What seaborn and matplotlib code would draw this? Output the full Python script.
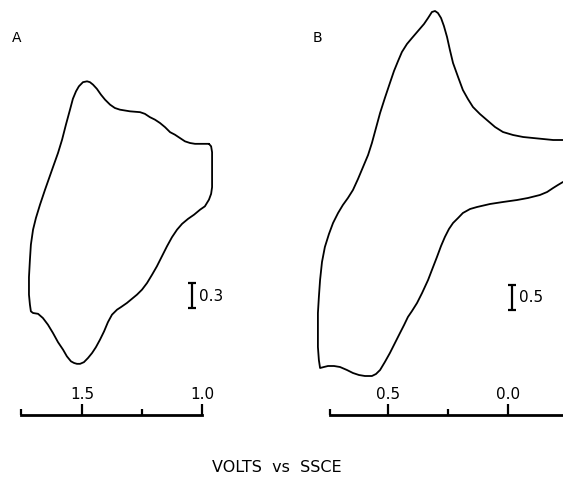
import matplotlib
matplotlib.use("Agg")
import matplotlib.pyplot as plt
import seaborn as sns
import pandas as pd

# ---------------- data ----------------
# Panel A: potential (V vs SSCE) and current (scale-bar units), closed loop
volts_a = [0.971, 0.962, 0.958, 0.958, 0.958, 0.962, 0.971, 0.988, 1.008, 1.033,
           1.058, 1.083, 1.104, 1.125, 1.146, 1.167, 1.188, 1.208, 1.229, 1.250,
           1.271, 1.292, 1.313, 1.338, 1.354, 1.375, 1.392, 1.408, 1.425, 1.442,
           1.458, 1.475, 1.492, 1.508, 1.521, 1.533, 1.546, 1.563, 1.579, 1.600,
           1.621, 1.642, 1.663, 1.683, 1.704, 1.713, 1.717, 1.721, 1.721, 1.717,
           1.713, 1.704, 1.692, 1.675, 1.654, 1.621, 1.600, 1.583, 1.567, 1.550,
           1.538, 1.525, 1.513, 1.496, 1.479, 1.467, 1.454, 1.438, 1.421, 1.404,
           1.383, 1.363, 1.342, 1.300, 1.258, 1.238, 1.217, 1.196, 1.175, 1.154,
           1.133, 1.113, 1.092, 1.071, 1.050, 1.029, 1.008, 0.971]
current_a = [3.23, 3.20, 3.13, 2.92, 2.71, 2.63, 2.56, 2.48, 2.44, 2.38,
             2.33, 2.27, 2.20, 2.11, 2.00, 1.88, 1.76, 1.66, 1.56, 1.48,
             1.42, 1.37, 1.32, 1.27, 1.24, 1.18, 1.09, 0.98, 0.88, 0.79,
             0.72, 0.66, 0.61, 0.59, 0.59, 0.60, 0.62, 0.68, 0.76, 0.85,
             0.96, 1.06, 1.14, 1.19, 1.20, 1.22, 1.30, 1.42, 1.63, 1.84,
             2.02, 2.20, 2.34, 2.50, 2.68, 2.95, 3.12, 3.28, 3.46, 3.64,
             3.77, 3.86, 3.92, 3.97, 3.98, 3.97, 3.94, 3.89, 3.82, 3.76,
             3.70, 3.66, 3.64, 3.62, 3.61, 3.59, 3.55, 3.52, 3.48, 3.43,
             3.37, 3.34, 3.30, 3.26, 3.24, 3.23, 3.23, 3.23]

# Panel B
volts_b = [-0.229, -0.188, -0.146, -0.104, -0.063, -0.021, 0.021, 0.054, 0.088, 0.117,
           0.146, 0.167, 0.188, 0.208, 0.229, 0.242, 0.254, 0.267, 0.279, 0.292,
           0.304, 0.317, 0.333, 0.350, 0.375, 0.400, 0.421, 0.442, 0.458, 0.475,
           0.492, 0.513, 0.533, 0.550, 0.567, 0.583, 0.604, 0.625, 0.646, 0.667,
           0.688, 0.708, 0.729, 0.746, 0.763, 0.775, 0.783, 0.788, 0.792, 0.792,
           0.792, 0.788, 0.783, 0.767, 0.750, 0.725, 0.700, 0.671, 0.646, 0.621,
           0.596, 0.579, 0.567, 0.550, 0.533, 0.513, 0.492, 0.471, 0.450, 0.433,
           0.417, 0.400, 0.379, 0.358, 0.333, 0.317, 0.296, 0.279, 0.263, 0.246,
           0.229, 0.208, 0.188, 0.158, 0.129, 0.075, 0.021, -0.038, -0.083, -0.133,
           -0.163, -0.188, -0.208, -0.229]
current_b = [5.46, 5.46, 5.48, 5.50, 5.52, 5.56, 5.62, 5.72, 5.86, 5.98,
             6.12, 6.28, 6.46, 6.72, 7.00, 7.26, 7.52, 7.74, 7.90, 8.00,
             8.04, 8.02, 7.90, 7.78, 7.64, 7.50, 7.38, 7.22, 7.04, 6.84,
             6.60, 6.30, 6.00, 5.70, 5.40, 5.16, 4.92, 4.68, 4.46, 4.30,
             4.16, 4.00, 3.80, 3.58, 3.32, 3.02, 2.66, 2.32, 2.00, 1.66,
             1.32, 1.06, 0.90, 0.92, 0.94, 0.94, 0.92, 0.86, 0.80, 0.76,
             0.74, 0.74, 0.74, 0.78, 0.86, 1.02, 1.20, 1.40, 1.60, 1.76,
             1.92, 2.04, 2.20, 2.40, 2.66, 2.86, 3.12, 3.34, 3.52, 3.68,
             3.80, 3.90, 4.00, 4.08, 4.12, 4.18, 4.22, 4.26, 4.30, 4.36,
             4.42, 4.50, 4.56, 4.62]

ticks_a = [1.5, 1.0]
ticklabels_a = ["1.5", "1.0"]
minor_a = [1.754, 1.25]
ticks_b = [0.5, 0.0]
ticklabels_b = ["0.5", "0.0"]
minor_b = [0.742, 0.25]

scale_a = 0.3
scale_b = 0.5
panel_labels = ["A", "B"]
xlabel = "VOLTS  vs  SSCE"

# ---------------- style ----------------
sns.set_theme(style="white")
plt.rcParams["font.family"] = ["DejaVu Sans"]

fig = plt.figure(figsize=(5.63, 4.8), dpi=100)
axA = fig.add_axes([0, 0, 281 / 563, 1])
axB = fig.add_axes([281 / 563, 0, 282 / 563, 1])

dfA = pd.DataFrame({"V": volts_a, "I": current_a})
dfB = pd.DataFrame({"V": volts_b, "I": current_b})

sns.lineplot(data=dfA, x="V", y="I", sort=False, estimator=None, ax=axA,
             color="black", lw=1.3, solid_joinstyle="round")
sns.lineplot(data=dfB, x="V", y="I", sort=False, estimator=None, ax=axB,
             color="black", lw=1.3, solid_joinstyle="round")

configs = [
    (axA, (1.8417, 0.6708), (-0.804, 4.956), -0.024, (minor_a[0], ticks_a[-1]),
     ticks_a, ticklabels_a, minor_a, (1.042, 1.26, scale_a), (1.0125, 1.40)),
    (axB, (0.9458, -0.2292), (-1.34, 8.26), -0.04, (minor_b[0], -0.2292),
     ticks_b, ticklabels_b, minor_b, (-0.017, 2.06, scale_b), (-0.046, 2.30)),
]

for ax, xl, yl, ybase, bounds, tks, tlabs, mins, bar, txt in configs:
    ax.set_xlim(*xl)
    ax.set_ylim(*yl)
    ax.set_xlabel("")
    ax.set_ylabel("")
    ax.set_yticks([])
    ax.set_facecolor("white")
    for s in ["left", "right", "bottom"]:
        ax.spines[s].set_visible(False)
    sp = ax.spines["top"]
    sp.set_visible(True)
    sp.set_position(("data", ybase))
    sp.set_bounds(*bounds)
    sp.set_linewidth(2.0)
    sp.set_color("black")
    ax.xaxis.tick_top()
    ax.set_xticks(tks)
    ax.set_xticklabels(tlabs)
    ax.set_xticks(mins, minor=True)
    ax.tick_params(axis="x", which="major", direction="out", length=8, width=1.6,
                   color="black", labelsize=11, pad=1.5, labelcolor="black")
    ax.tick_params(axis="x", which="minor", direction="out", length=4, width=1.6,
                   color="black")
    bx, by, bs = bar
    ax.errorbar([bx], [by + bs / 2], yerr=[[bs / 2], [bs / 2]], fmt="none",
                ecolor="black", elinewidth=1.6, capsize=3, capthick=1.6)
    ax.text(txt[0], txt[1], f"{bs:.1f}", ha="left", va="center", fontsize=11,
            color="black")

fig.text(17 / 563, 1 - 38 / 480, panel_labels[0], ha="center", va="center",
         fontsize=10, color="black")
fig.text(317 / 563, 1 - 38 / 480, panel_labels[1], ha="center", va="center",
         fontsize=10, color="black")
fig.text(277 / 563, 1 - 468 / 480, xlabel, ha="center", va="center",
         fontsize=11.5, color="black")

fig.savefig("out.png", dpi=100, facecolor="white")
